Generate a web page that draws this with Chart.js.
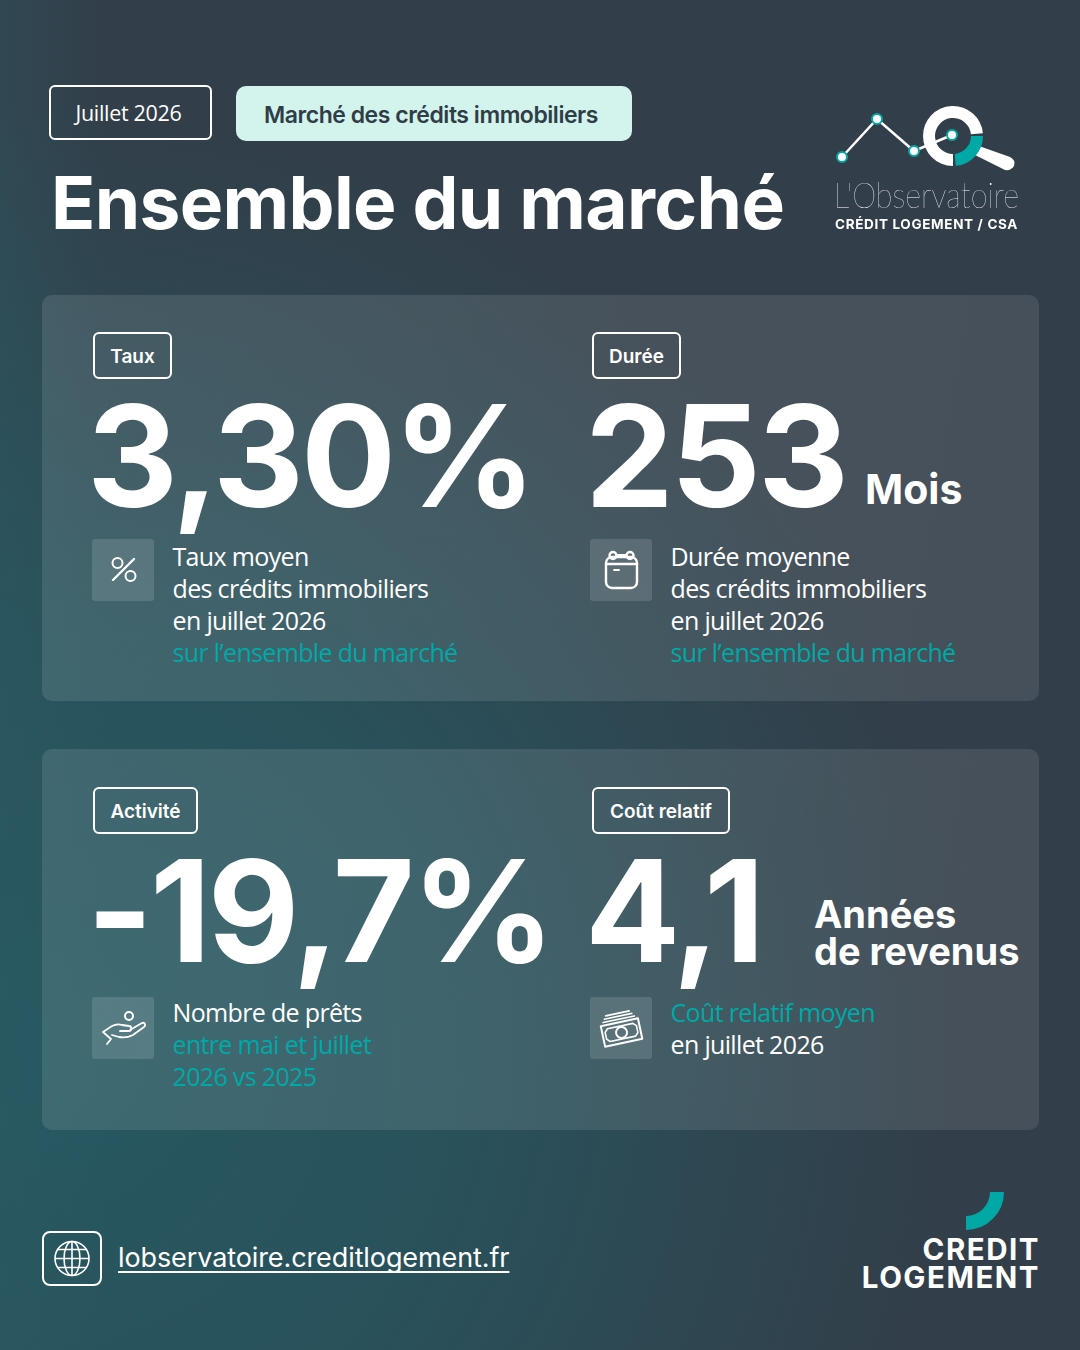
<!DOCTYPE html>
<html lang="fr">
<head>
<meta charset="utf-8">
<title>Ensemble du marché</title>
<script src="https://cdn.jsdelivr.net/npm/chart.js@4"></script>
<style>
* { margin: 0; padding: 0; box-sizing: border-box; }
html, body { width: 1080px; height: 1350px; overflow: hidden; }
body {
  position: relative;
  color: #fff;
  font-family: Inter, sans-serif;
  background:
    linear-gradient(90deg, rgba(45, 92, 100, .35) 0, rgba(45, 92, 100, 0) 110px),
    radial-gradient(ellipse 900px 950px at 60px 1050px, rgba(38, 88, 97, 1) 0%, rgba(38, 88, 97, .75) 45%, rgba(38, 88, 97, 0) 100%),
    #323e49;
}
body > *, .card > * { position: absolute; }
.pill { border: 2px solid #fff; border-radius: 6px; display: flex; align-items: center; justify-content: center; white-space: nowrap; }
.month { left: 49px; top: 85px; width: 163px; height: 55px; font: 400 21.5px "Open Sans", sans-serif; letter-spacing: -.3px; padding-right: 4px; }
.theme { left: 236px; top: 86px; width: 396px; height: 55px; background: #d3f3ed; color: #2f3d47; border: 0; border-radius: 10px; font-size: 23px; font-weight: 600; letter-spacing: -.47px; padding: 2px 6px 0 0; }
h1 { left: 51px; top: 159px; font-size: 73px; font-weight: 700; line-height: 88px; white-space: nowrap; letter-spacing: -.65px; }
.card { left: 42px; width: 997px; border-radius: 10px; background: linear-gradient(100deg, rgba(255,255,255,.11), rgba(255,255,255,.095)); }
.tag { height: 47px; font-size: 19px; font-weight: 600; background: transparent; padding-top: 1px; }
.big { font-size: 141px; font-weight: 700; line-height: 146px; white-space: nowrap; letter-spacing: -3px; }
.unit { font-weight: 700; line-height: 36.5px; white-space: nowrap; }
.tile { width: 62px; height: 62px; border-radius: 3px; background: rgba(255,255,255,.13); }
.tile svg { width: 62px; height: 62px; fill: none; stroke: #fff; stroke-width: 2; stroke-linecap: round; stroke-linejoin: round; display: block; }
.desc { font: 400 25px/32px "Open Sans", sans-serif; white-space: nowrap; letter-spacing: -.66px; }
.desc .hl { color: #00a9a5; }
.web { left: 42px; top: 1231px; width: 60px; height: 55px; border: 2px solid #fff; border-radius: 8px; }
.web svg { width: 56px; height: 51px; fill: none; stroke: #fff; stroke-width: 1.6; display: block; }
.url { left: 118px; top: 1240px; font-size: 27px; line-height: 36px; white-space: nowrap; letter-spacing: -.1px; text-decoration: underline; text-decoration-thickness: 2px; text-underline-offset: 4px; text-decoration-skip-ink: none; }
.obs { left: 834px; top: 173px; font: 200 36px/42px Lato, sans-serif; white-space: nowrap; transform: scaleX(.85); transform-origin: left center; }
.obs2 { left: 835px; top: 215px; font-size: 13.5px; line-height: 18px; font-weight: 700; letter-spacing: .66px; white-space: nowrap; }
.cl { right: 40px; text-align: right; font: 700 29.5px/27.5px Inter, sans-serif; top: 1236px; letter-spacing: 1.5px; }
canvas { position: absolute; }
#handle { left: 970px; top: 140px; width: 50px; height: 35px; }
</style>
</head>
<body>
<div class="pill month" id="month"></div>
<div class="pill theme" id="theme"></div>
<h1 id="title"></h1>

<svg id="handle" viewBox="970 140 50 35"><path d="M979 146 L1010 157 Q1016 160 1014 166 Q1011 171 1005 170 L975 155 Z" fill="#fff"/></svg>
<canvas id="ring" width="60" height="60" style="left:922.5px;top:105.5px;width:60px;height:60px"></canvas>
<canvas id="trend" width="140" height="70" style="left:830px;top:105px;width:140px;height:70px"></canvas>
<div class="obs">L'Observatoire</div>
<div class="obs2">CRÉDIT LOGEMENT / CSA</div>

<div class="card" style="top:295px;height:406px"></div>
<div class="card" style="top:749px;height:381px"></div>
<div id="kpis" style="left:0;top:0"></div>

<div class="web"><svg viewBox="0 0 56 51"><circle cx="28" cy="25.5" r="17"/><ellipse cx="28" cy="25.5" rx="8" ry="17"/><path d="M28 8.5v34M11 25.5h34M13.5 16.5h29M13.5 34.5h29"/></svg></div>
<div class="url" id="url"></div>

<canvas id="arc" width="76" height="76" style="left:928px;top:1154px;width:76px;height:76px;"></canvas>
<div class="cl">CREDIT<br>LOGEMENT</div>

<script>
const kpiTags = ["Taux", "Durée", "Activité", "Coût relatif"];
const kpiValues = ["3,30%", "253", "-19,7%", "4,1"];
const kpiUnits = ["", "Mois", "", "Années<br>de revenus"];
const kpiTexts = [
  ["Taux moyen", "des crédits immobiliers", "en juillet 2026", "#sur l’ensemble du marché"],
  ["Durée moyenne", "des crédits immobiliers", "en juillet 2026", "#sur l’ensemble du marché"],
  ["Nombre de prêts", "#entre mai et juillet", "#2026 vs 2025"],
  ["#Coût relatif moyen", "en juillet 2026"],
];

// logo marks
const trendX = [12, 47, 84, 122];
const trendY = [18, 56, 24, 40];
const ringLabels = ["teal", "gap", "white", "gap"];
const ringValues = [23.5, 1.5, 73.5, 1.5];
const arcValues = [25, 75];

document.querySelector("#month").textContent = "Juillet 2026";
document.querySelector("#theme").textContent = "Marché des crédits immobiliers";
document.querySelector("#title").textContent = "Ensemble du marché";
document.querySelector("#url").textContent = "lobservatoire.creditlogement.fr";

const icons = [
  '<circle cx="25.500" cy="24" r="5"/><circle cx="38.500" cy="37" r="5"/><path d="M21 41L42 20" stroke-width="2.4"/>',
  '<rect x="16" y="18" width="31" height="31" rx="6" stroke-width="2.400"/><path d="M16 25h31" stroke-width="2.400"/><circle cx="23" cy="16.500" r="3.500" stroke-width="2.400"/><circle cx="40" cy="16.500" r="3.500" stroke-width="2.400"/><path d="M27 16h9M24 31h5" stroke-width="1.800"/>',
  '<circle cx="37" cy="19" r="4"/><path d="M11 35l9-6c4-2 7-2 10-1l7 1c3 0 3 5 0 5h-9M38 33l12-7c3-1 4 2 2 4l-11 8c-4 2-9 3-14 2l-7-2M11 35l8 7M19 42l-4 5" stroke-width="1.8"/>',
  '<g transform="rotate(-12 31 33) translate(1 1)"><rect x="11" y="24" width="38" height="21"/><circle cx="30" cy="34.500" r="5.500"/><path d="M17 28h26l3 3v7l-3 3H17l-3-3v-7zM14 21h32M16 18h28M18 15h24" stroke-width="1.6"/></g>',
];

// where each block sits on the page
const blocks = [
  { x: 92, tagX: 93, tagW: 79, tagY: 332, bigY: 383, unitX: 0, unitY: 0, unitSize: 0, tileY: 539, textY: 540 },
  { x: 590, tagX: 592, tagW: 89, tagY: 332, bigY: 383, unitX: 865, unitY: 471, unitSize: 41, tileY: 539, textY: 540 },
  { x: 92, tagX: 93, tagW: 105, tagY: 787, bigY: 838, unitX: 815, unitY: 0, unitSize: 0, tileY: 997, textY: 996 },
  { x: 590, tagX: 592, tagW: 138, tagY: 787, bigY: 838, unitX: 814, unitY: 896, unitSize: 38, tileY: 997, textY: 996 },
];

const kpis = document.querySelector("#kpis");
kpiTags.forEach((tag, i) => {
  const b = blocks[i];
  const lines = kpiTexts[i]
    .map((l) => (l[0] === "#" ? `<span class="hl">${l.slice(1)}</span>` : l))
    .join("<br>");
  kpis.insertAdjacentHTML(
    "beforeend",
    `<div class="pill tag" style="position:absolute;left:${b.tagX}px;top:${b.tagY}px;width:${b.tagW}px">${tag}</div>
     <div class="big" style="position:absolute;left:${b.x - 5}px;top:${b.bigY}px">${kpiValues[i]}</div>
     ${kpiUnits[i] ? `<div class="unit" style="position:absolute;left:${b.unitX}px;top:${b.unitY}px;font-size:${b.unitSize}px">${kpiUnits[i]}</div>` : ""}
     <div class="tile" style="position:absolute;left:${b.x}px;top:${b.tileY}px"><svg viewBox="0 0 62 62">${icons[i]}</svg></div>
     <div class="desc" style="position:absolute;left:${b.x + 80.5}px;top:${b.textY}px">${lines}</div>`
  );
});

const bare = {
  responsive: false,
  animation: false,
  events: [],
  plugins: { legend: { display: false }, tooltip: { enabled: false } },
};

new Chart(document.querySelector("#trend"), {
  type: "line",
  data: {
    datasets: [
      {
        data: trendX.map((x, i) => ({ x, y: trendY[i] })),
        borderColor: "#ffffff",
        borderWidth: 2.5,
        pointRadius: 5,
        pointBorderWidth: 2,
        pointBackgroundColor: "#ffffff",
        pointBorderColor: "#00a9a5",
        tension: 0,
      },
    ],
  },
  options: {
    ...bare,
    layout: { padding: 0, autoPadding: false },
    scales: {
      x: { type: "linear", display: false, min: 0, max: 140 },
      y: { display: false, min: 0, max: 70 },
    },
  },
});

new Chart(document.querySelector("#ring"), {
  type: "doughnut",
  data: {
    labels: ringLabels,
    datasets: [
      {
        data: ringValues,
        backgroundColor: ["#00a9a5", "rgba(0,0,0,0)", "#ffffff", "rgba(0,0,0,0)"],
        borderWidth: 0,
      },
    ],
  },
  options: { ...bare, rotation: 90, cutout: "60%" },
});

new Chart(document.querySelector("#arc"), {
  type: "doughnut",
  data: {
    datasets: [
      {
        data: arcValues,
        backgroundColor: ["#00a9a5", "rgba(0,0,0,0)"],
        borderWidth: 0,
      },
    ],
  },
  options: { ...bare, rotation: 90, cutout: "63%" },
});
</script>
</body>
</html>
